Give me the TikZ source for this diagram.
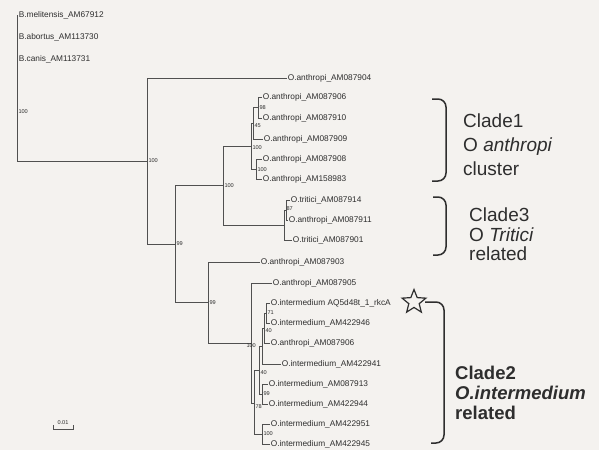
\documentclass[tikz,border=0pt]{standalone}
\usepackage{fontspec}
\setmainfont{Liberation Sans}
\usetikzlibrary{shapes.geometric}
\definecolor{bg}{HTML}{F4F2EF}
\definecolor{ln}{HTML}{505050}
\definecolor{tx}{HTML}{2E2E2E}
\begin{document}
\begin{tikzpicture}[x=1pt,y=-1pt,
  br/.style={draw=ln, line width=0.6pt},
  leaf/.style={anchor=west, inner sep=0.6pt, text=tx, font=\fontsize{8.3}{9}\selectfont},
  bs/.style={anchor=west, inner sep=0.3pt, text=tx, font=\fontsize{5.6}{6}\selectfont},
  brk/.style={draw=tx, line width=1.5pt, rounded corners=8pt},
  cladetxt/.style={anchor=north west, align=left, inner sep=0pt, text=tx}]
\fill[bg] (0,0) rectangle (599,450);
\useasboundingbox (0,0) rectangle (599,450);

% internal nodes
\coordinate (root) at (17,161);
\coordinate (A) at (147,161);
\coordinate (B) at (175,244);
\coordinate (C) at (223,185.5);
\coordinate (K1) at (251,146);
\coordinate (E) at (253,123);
\coordinate (G) at (258,107.5);
\coordinate (F) at (256,169);
\coordinate (CL3) at (284,225);
\coordinate (H) at (286,210);
\coordinate (D) at (208,302.5);
\coordinate (I) at (251,343);
\coordinate (L) at (254,403);
\coordinate (U) at (259,370);
\coordinate (T) at (262,346);
\coordinate (R) at (264,328);
\coordinate (S) at (266,313);
\coordinate (Q) at (262,394);
\coordinate (N) at (262,434);

% leaves
\node[leaf] (mel) at (18,15) {B.melitensis\_AM67912};
\node[leaf] (abo) at (18,37) {B.abortus\_AM113730};
\node[leaf] (can) at (18,59) {B.canis\_AM113731};
\node[leaf] (l904) at (287,78) {O.anthropi\_AM087904};
\node[leaf] (l906a) at (262,97) {O.anthropi\_AM087906};
\node[leaf] (l910) at (262,118) {O.anthropi\_AM087910};
\node[leaf] (l909) at (263,139) {O.anthropi\_AM087909};
\node[leaf] (l908) at (262,159) {O.anthropi\_AM087908};
\node[leaf] (l983) at (262,179) {O.anthropi\_AM158983};
\node[leaf] (l914) at (290,200) {O.tritici\_AM087914};
\node[leaf] (l911) at (288,220) {O.anthropi\_AM087911};
\node[leaf] (l901) at (292,240) {O.tritici\_AM087901};
\node[leaf] (l903) at (260,262) {O.anthropi\_AM087903};
\node[leaf] (l905) at (272,283) {O.anthropi\_AM087905};
\node[leaf] (lAQ) at (270,303) {O.intermedium AQ5d48t\_1\_rkcA};
\node[leaf] (l946) at (270,323) {O.intermedium\_AM422946};
\node[leaf] (l906b) at (270,343) {O.anthropi\_AM087906};
\node[leaf] (l941) at (281,364) {O.intermedium\_AM422941};
\node[leaf] (l913) at (268,384) {O.intermedium\_AM087913};
\node[leaf] (l944) at (268,404) {O.intermedium\_AM422944};
\node[leaf] (l951) at (270,424) {O.intermedium\_AM422951};
\node[leaf] (l945) at (270,444) {O.intermedium\_AM422945};

% branches
\draw[br] (root) |- (mel.west) (root) |- (abo.west) (root) |- (can.west);
\draw[br] (root) -- (A);
\draw[br] (A) |- (l904.west) (A) |- (B);
\draw[br] (B) |- (C) (B) |- (D);
\draw[br] (C) |- (K1) (C) |- (CL3);
\draw[br] (K1) |- (E) (K1) |- (F);
\draw[br] (E) |- (G) (E) |- (l909.west);
\draw[br] (G) |- (l906a.west) (G) |- (l910.west);
\draw[br] (F) |- (l908.west) (F) |- (l983.west);
\draw[br] (CL3) |- (H) (CL3) |- (l901.west);
\draw[br] (H) |- (l914.west) (H) |- (l911.west);
\draw[br] (D) |- (l903.west) (D) |- (I);
\draw[br] (I) |- (l905.west) (I) |- (L);
\draw[br] (L) |- (U) (L) |- (N);
\draw[br] (U) |- (T) (U) |- (Q);
\draw[br] (T) |- (R) (T) |- (l941.west);
\draw[br] (R) |- (S) (R) |- (l906b.west);
\draw[br] (S) |- (lAQ.west) (S) |- (l946.west);
\draw[br] (Q) |- (l913.west) (Q) |- (l944.west);
\draw[br] (N) |- (l951.west) (N) |- (l945.west);

% bootstrap values
\node[bs] (broot) at (18,112) {100};
\node[bs] (bA) at (148,161) {100};
\node[bs] (bB) at (176,244) {99};
\node[bs] (bC) at (224,186) {100};
\node[bs] (bK1) at (252,148) {100};
\node[bs] (bE) at (254,126) {45};
\node[bs] (bG) at (259,108) {98};
\node[bs] (bF) at (257,170) {100};
\node[bs] (bH) at (286,209) {87};
\node[bs] (bD) at (209,303) {99};
\node[bs] (bI) at (246,346) {100};
\node[bs] (bL) at (255,407) {78};
\node[bs] (bU) at (260,373) {40};
\node[bs] (bR) at (265,331) {40};
\node[bs] (bS) at (267,313) {71};
\node[bs] (bQ) at (263,394) {99};
\node[bs] (bN) at (263,434) {100};

% scale bar
\coordinate (sb1) at (53,429);
\coordinate (sb2) at (73,429);
\draw[br] ([yshift=4pt]sb1) -- (sb1) -- (sb2) -- ([yshift=4pt]sb2);
\node[bs, anchor=south] (sblab) at (63,425) {0.01};

% clade annotations
\draw[brk] (432,99) -- (446,99) -- (446,181) -- (432,181);
\node[cladetxt, font=\fontsize{19}{24}\selectfont] (c1) at (463,114) {Clade1\\O \textit{anthropi}\\cluster};
\draw[brk] (433,197) -- (446,197) -- (446,255) -- (433,255);
\node[cladetxt, font=\fontsize{19}{19.5}\selectfont] (c3) at (469,208) {Clade3\\O \textit{Tritici}\\related};
\node[star, star points=5, star point ratio=2.3, draw=tx, line width=1.2pt, minimum size=25pt, inner sep=0pt] (star) at (414,302) {};
\coordinate (b2a) at (425,302);
\coordinate (b2b) at (431,443);
\draw[brk] (b2a) -- (444,302) -- (444,443) -- (b2b);
\node[cladetxt, font=\fontsize{18.5}{20}\selectfont\bfseries] (c2) at (455,366) {Clade2\\\textit{O.intermedium}\\related};
\end{tikzpicture}
\end{document}
